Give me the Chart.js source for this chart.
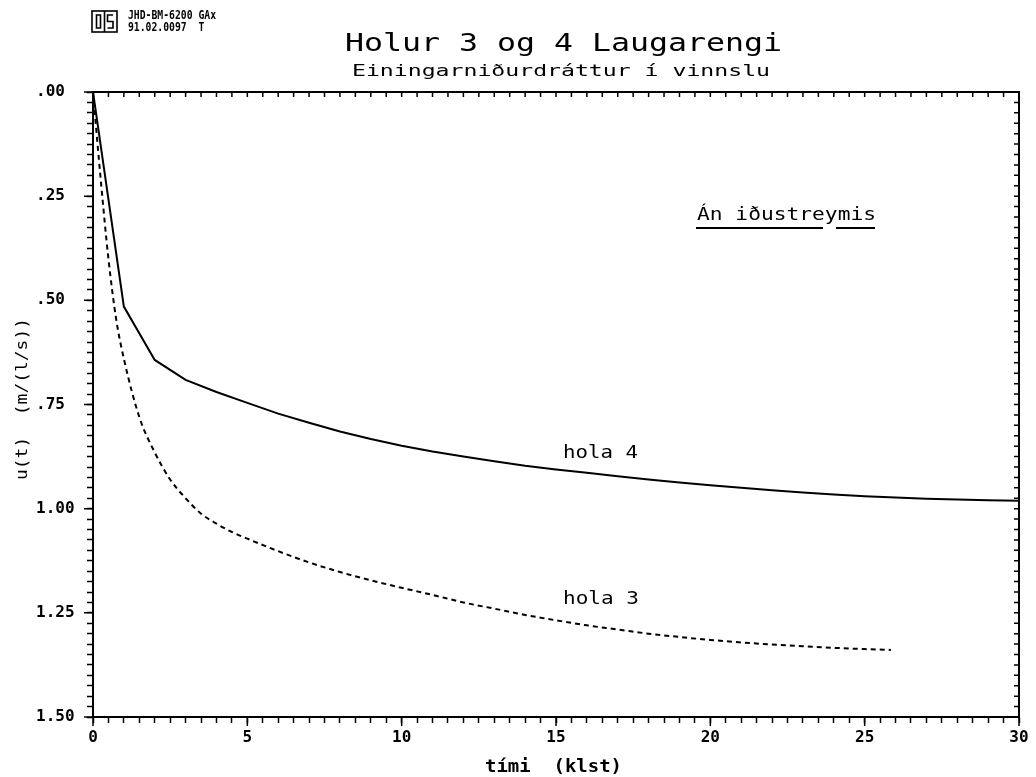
<!DOCTYPE html>
<html>
<head>
<meta charset="utf-8">
<script src="https://cdn.jsdelivr.net/npm/chart.js@4/dist/chart.umd.min.js"></script>
<style>
  html, body { margin: 0; padding: 0; background: #ffffff; }
  #wrap { width: 1036px; height: 777px; position: relative; }
</style>
</head>
<body>
<div id="wrap"><canvas id="c" width="1036" height="777"></canvas></div>
<script>
// ---- data ----
const tHola4 = [0, 1, 2, 3, 4, 5, 6, 7, 8, 9, 10, 11, 12, 13, 14, 15, 16, 17, 18, 19, 20, 21, 22, 23, 24, 25, 26, 27, 28, 29, 30];
const uHola4 = [0, 0.515, 0.643, 0.691, 0.72, 0.746, 0.772, 0.794, 0.815, 0.833, 0.849, 0.863, 0.875, 0.886, 0.897, 0.906, 0.914, 0.922, 0.93, 0.937, 0.944, 0.95, 0.956, 0.961, 0.966, 0.97, 0.973, 0.976, 0.978, 0.98, 0.981];
const tHola3 = [0, 0.25, 0.5, 0.75, 1, 1.5, 2, 2.5, 3, 3.5, 4, 4.5, 5, 6, 7, 8, 9, 10, 11, 12, 13, 14, 15, 16, 17, 18, 19, 20, 21, 22, 23, 24, 25, 25.85];
const uHola3 = [0, 0.21, 0.4, 0.545, 0.64, 0.78, 0.865, 0.93, 0.975, 1.012, 1.036, 1.056, 1.072, 1.102, 1.129, 1.152, 1.172, 1.19, 1.207, 1.225, 1.24, 1.255, 1.268, 1.28, 1.29, 1.3, 1.308, 1.315, 1.321, 1.326, 1.33, 1.334, 1.337, 1.339];
const xTickLabels = ['0', '5', '10', '15', '20', '25', '30'];
const yTickLabels = ['.00', '.25', '.50', '.75', '1.00', '1.25', '1.50'];
const seriesNames = ['hola 4', 'hola 3'];
const titleText = 'Holur 3 og 4 Laugarengi';
const subtitleText = 'Einingarniðurdráttur í vinnslu';
const noteText = 'Án iðustreymis';
const xTitle = 'tími  (klst)';
const yTitle = 'u(t)  (m/(l/s))';
const headLines = ['JHD-BM-6200 GAx', '91.02.0097  T'];

const MONO = '"DejaVu Sans Mono", "Liberation Mono", monospace';

function toPts(ts, us) { return ts.map((t, i) => ({ x: t, y: us[i] })); }

// draw text stretched to a target width
function stretchText(ctx, s, x, y, size, weight, width, opts = {}) {
  ctx.save();
  ctx.font = `${weight} ${size}px ${MONO}`;
  ctx.textBaseline = 'alphabetic';
  ctx.textAlign = 'left';
  const m = ctx.measureText(s).width;
  const sx = opts.sx || (width / m);
  ctx.translate(x, y);
  if (opts.rotate) ctx.rotate(opts.rotate);
  ctx.scale(sx, 1);
  ctx.fillText(s, opts.center ? -m / 2 : 0, 0);
  ctx.restore();
  return sx;
}

const deco = {
  id: 'deco',
  afterDraw(chart) {
    const { ctx, chartArea: a, scales } = chart;
    const x = scales.x, y = scales.y;
    ctx.save();
    ctx.strokeStyle = '#000';
    ctx.fillStyle = '#000';
    ctx.lineCap = 'butt';

    // frame
    ctx.lineWidth = 2;
    ctx.strokeRect(a.left, a.top, a.right - a.left, a.bottom - a.top);

    // inward ticks on top and right, longer major ticks on bottom / left
    ctx.lineWidth = 1.5;
    ctx.beginPath();
    x.ticks.forEach(t => {
      const px = x.getPixelForValue(t.value);
      ctx.moveTo(px, a.top); ctx.lineTo(px, a.top + 5);
      const k = Math.round(t.value * 10);
      if (k % 50 === 0) { ctx.moveTo(px, a.bottom); ctx.lineTo(px, a.bottom + 9); }
    });
    y.ticks.forEach(t => {
      const py = y.getPixelForValue(t.value);
      ctx.moveTo(a.right - 5, py); ctx.lineTo(a.right, py);
      const k = Math.round(t.value * 1000);
      if (k % 250 === 0) { ctx.moveTo(a.left - 9, py); ctx.lineTo(a.left, py); }
    });
    ctx.stroke();

    // logo box
    ctx.lineWidth = 1.6;
    ctx.strokeRect(92, 11, 25, 21);
    ctx.beginPath();
    ctx.moveTo(104.5, 11); ctx.lineTo(104.5, 32);
    ctx.rect(96.5, 15, 4, 13);
    ctx.moveTo(113, 15); ctx.lineTo(107.5, 15); ctx.lineTo(107.5, 21.5);
    ctx.lineTo(113, 21.5); ctx.lineTo(113, 28); ctx.lineTo(107.5, 28);
    ctx.stroke();

    // header texts
    const sx = stretchText(ctx, headLines[0], 128, 19, 13, 'bold', 88);
    stretchText(ctx, headLines[1], 128, 31, 13, 'bold', 0, { sx });

    // titles
    stretchText(ctx, titleText, 345, 51, 24, 'normal', 437);
    stretchText(ctx, subtitleText, 352, 76, 16, 'normal', 418);

    // annotation
    stretchText(ctx, noteText, 697, 220, 17, 'normal', 179);
    ctx.lineWidth = 2;
    ctx.beginPath();
    ctx.moveTo(696, 228); ctx.lineTo(823, 228);
    ctx.moveTo(836, 228); ctx.lineTo(875, 228);
    ctx.stroke();

    // series labels
    stretchText(ctx, seriesNames[0], 563, 458, 17, 'normal', 75);
    stretchText(ctx, seriesNames[1], 563, 604, 17, 'normal', 76);

    // axis titles
    stretchText(ctx, xTitle, 485, 772, 17, 'bold', 137);
    stretchText(ctx, yTitle, 27, 399, 15, 'normal', 162, { rotate: -Math.PI / 2, center: true });
    ctx.restore();
  }
};

new Chart(document.getElementById('c'), {
  type: 'line',
  data: {
    datasets: [
      {
        label: seriesNames[0],
        data: toPts(tHola4, uHola4),
        borderColor: '#000',
        borderWidth: 2,
        pointRadius: 0,
        tension: 0,
        fill: false
      },
      {
        label: seriesNames[1],
        data: toPts(tHola3, uHola3),
        borderColor: '#000',
        borderWidth: 2,
        borderDash: [5, 4],
        pointRadius: 0,
        cubicInterpolationMode: 'monotone',
        fill: false
      }
    ]
  },
  options: {
    responsive: false,
    animation: false,
    devicePixelRatio: 1,
    layout: { padding: { left: 36, right: 17, top: 92, bottom: 0 } },
    plugins: {
      legend: { display: false },
      title: { display: false },
      tooltip: { enabled: false }
    },
    scales: {
      x: {
        type: 'linear',
        position: 'bottom',
        min: 0, max: 30,
        afterFit(s) { s.height = 60; },
        grid: { display: true, drawOnChartArea: false, drawTicks: true, tickLength: 6, tickWidth: 1.5, tickColor: '#000', color: '#000' },
        border: { display: true, width: 2, color: '#000' },
        ticks: {
          stepSize: 0.5,
          autoSkip: false,
          maxRotation: 0,
          padding: 5,
          color: '#000',
          font: { family: MONO, size: 16, weight: 'bold' },
          callback(v) {
            const k = Math.round(v * 10);
            return k % 50 === 0 ? xTickLabels[k / 50] : '';
          }
        }
      },
      y: {
        type: 'linear',
        position: 'left',
        reverse: true,
        min: 0, max: 1.5,
        afterFit(s) { s.width = 57; },
        grid: { display: true, drawOnChartArea: false, drawTicks: true, tickLength: 6, tickWidth: 1.5, tickColor: '#000', color: '#000' },
        border: { display: true, width: 2, color: '#000' },
        ticks: {
          stepSize: 0.025,
          autoSkip: false,
          crossAlign: 'far',
          color: '#000',
          font: { family: MONO, size: 16, weight: 'bold' },
          callback(v) {
            const k = Math.round(v * 1000);
            return k % 250 === 0 ? yTickLabels[k / 250] : '';
          }
        }
      }
    }
  },
  plugins: [deco]
});
</script>
</body>
</html>
